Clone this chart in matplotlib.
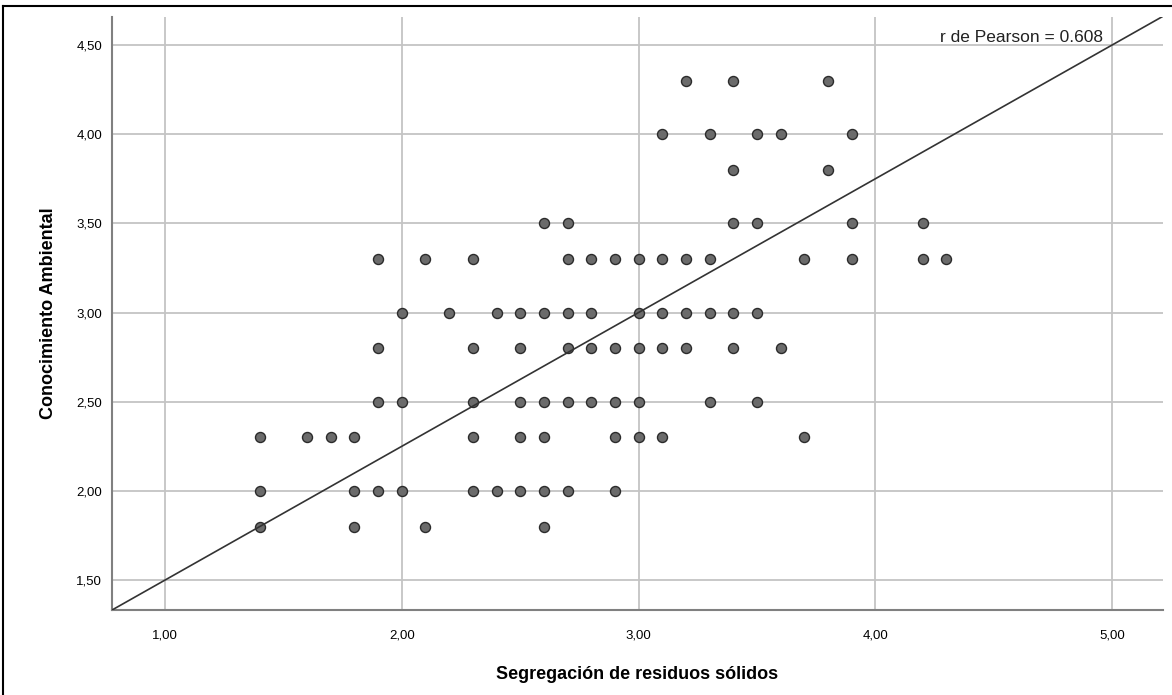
import numpy as np
import matplotlib.pyplot as plt
from matplotlib.lines import Line2D

# puntos, agrupados por fila (valor de y)
rows = {
    4.3: [3.2, 3.4, 3.8],
    4.0: [3.1, 3.3, 3.5, 3.6, 3.9],
    3.8: [3.4, 3.8],
    3.5: [2.6, 2.7, 3.4, 3.5, 3.9, 4.2],
    3.3: [1.9, 2.1, 2.3, 2.7, 2.8, 2.9, 3.0, 3.1, 3.2, 3.3, 3.7, 3.9, 4.2, 4.3],
    3.0: [2.0, 2.2, 2.4, 2.5, 2.6, 2.7, 2.8, 3.0, 3.1, 3.2, 3.3, 3.4, 3.5],
    2.8: [1.9, 2.3, 2.5, 2.7, 2.8, 2.9, 3.0, 3.1, 3.2, 3.4, 3.6],
    2.5: [1.9, 2.0, 2.3, 2.5, 2.6, 2.7, 2.8, 2.9, 3.0, 3.3, 3.5],
    2.3: [1.4, 1.6, 1.7, 1.8, 2.3, 2.5, 2.6, 2.9, 3.0, 3.1, 3.7],
    2.0: [1.4, 1.8, 1.9, 2.0, 2.3, 2.4, 2.5, 2.6, 2.7, 2.9],
    1.8: [1.4, 1.8, 2.1, 2.6],
}
segregacion = np.array([x for y, xs in rows.items() for x in xs])
conocimiento = np.array([y for y, xs in rows.items() for x in xs])

fit_intercept = 0.75
fit_slope = 0.75
r_pearson = 0.608

x_ticks = [1.0, 2.0, 3.0, 4.0, 5.0]
y_ticks = [1.5, 2.0, 2.5, 3.0, 3.5, 4.0, 4.5]

plt.rcParams['font.family'] = ['Liberation Sans', 'DejaVu Sans']

fig = plt.figure(figsize=(11.72, 6.95), dpi=100)
ax = fig.add_axes([0.0956, 0.1223, 0.8967, 0.8532])

ax.set_xlim(0.776, 5.215)
ax.set_ylim(1.332, 4.657)

ax.grid(True, color='#c4c4c4', linewidth=1.3)
ax.set_axisbelow(True)

ax.scatter(segregacion, conocimiento, s=52, facecolor='#6b6b6b',
           edgecolor='#2b2b2b', linewidth=1.0, zorder=3)

xs = np.array([0.776, 5.215])
ax.plot(xs, fit_intercept + fit_slope * xs, color='#333333', linewidth=1.2, zorder=4)

ax.set_xticks(x_ticks)
ax.set_yticks(y_ticks)
ax.set_xticklabels([f'{v:.2f}'.replace('.', ',') for v in x_ticks], fontsize=9.5)
ax.set_yticklabels([f'{v:.2f}'.replace('.', ',') for v in y_ticks], fontsize=9.5)
ax.tick_params(length=0, pad=7)
ax.tick_params(axis='x', pad=14)

for s in ['top', 'right']:
    ax.spines[s].set_visible(False)
for s in ['left', 'bottom']:
    ax.spines[s].set_color('#808080')
    ax.spines[s].set_linewidth(1.5)

ax.set_xlabel('Segregación de residuos sólidos', fontsize=13, fontweight='bold', labelpad=18)
ax.set_ylabel('Conocimiento Ambiental', fontsize=13, fontweight='bold', labelpad=14)

ax.text(0.943, 0.966, f'r de Pearson = {r_pearson:.3f}', transform=ax.transAxes,
        ha='right', va='center', fontsize=12.5, color='#222222')

# marco negro alrededor del gráfico
fig.add_artist(Line2D([3 / 1172, 1], [1 - 6 / 695, 1 - 6 / 695], color='black', linewidth=1.5))
fig.add_artist(Line2D([3 / 1172, 3 / 1172], [0, 1 - 6 / 695], color='black', linewidth=1.5))

fig.savefig('out.png', dpi=100, facecolor='white')
